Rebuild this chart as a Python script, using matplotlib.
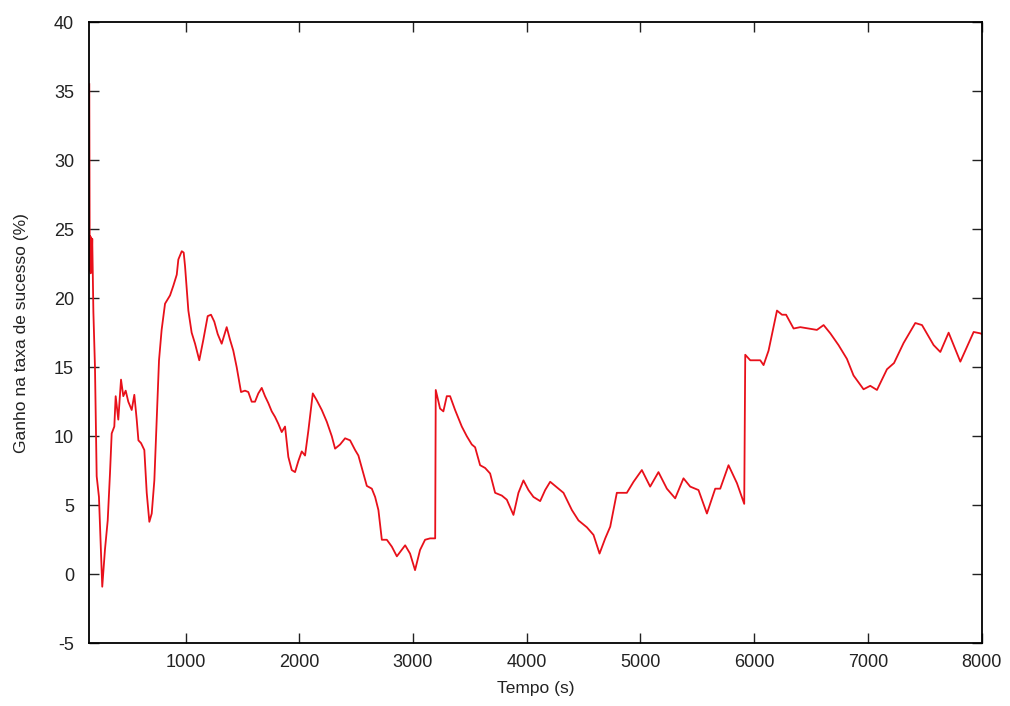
import matplotlib
matplotlib.use("Agg")
import matplotlib.pyplot as plt

plt.rcParams["font.family"] = ["Liberation Sans", "DejaVu Sans"]
plt.rcParams["axes.unicode_minus"] = False

# tempo (s) e ganho (%)
tempo = [154, 158, 162, 166, 170, 175, 180, 190, 204, 219, 239, 268, 292, 316, 336,
         351, 374, 386, 409, 433, 453, 474, 497, 527, 550, 571, 586, 609, 638, 659,
         682, 703, 726, 747, 767, 790, 820, 864, 893, 923, 937, 967, 984, 996, 1025,
         1054, 1084, 1121, 1157, 1195, 1224, 1253, 1283, 1318, 1362, 1391, 1420, 1450,
         1488, 1523, 1552, 1582, 1611, 1640, 1670, 1699, 1728, 1758, 1787, 1816, 1846,
         1875, 1904, 1934, 1963, 1992, 2022, 2051, 2080, 2119, 2154, 2198, 2242, 2286,
         2315, 2359, 2403, 2447, 2491, 2520, 2564, 2594, 2638, 2667, 2696, 2726, 2770,
         2814, 2858, 2931, 2974, 3018, 3062, 3106, 3150, 3195, 3200, 3238, 3267, 3297,
         3326, 3370, 3429, 3473, 3517, 3546, 3590, 3634, 3678, 3722, 3781, 3825, 3883,
         3927, 3971, 4015, 4059, 4118, 4162, 4206, 4265, 4323, 4397, 4455, 4529, 4587,
         4640, 4690, 4734, 4792, 4880, 4939, 5012, 5085, 5158, 5232, 5305, 5378, 5437,
         5510, 5584, 5657, 5701, 5774, 5848, 5912, 5921, 5965, 6053, 6082, 6126, 6200,
         6244, 6280, 6346, 6405, 6478, 6551, 6610, 6669, 6741, 6815, 6873, 6961, 7020,
         7079, 7167, 7229, 7313, 7416, 7475, 7577, 7636, 7709, 7812, 7929, 7988, 8000]
ganho = [35.5, 22.0, 24.5, 21.8, 24.4, 22.5, 24.3, 19.0, 15.0, 7.1, 5.6, -0.9, 1.8, 3.9, 7.3,
         10.2, 10.7, 12.9, 11.2, 14.1, 12.9, 13.3, 12.5, 11.9, 13.0, 11.2, 9.7, 9.5, 9.0, 5.9,
         3.8, 4.4, 6.8, 11.2, 15.5, 17.7, 19.6, 20.2, 20.9, 21.7, 22.8, 23.4, 23.3, 22.3, 19.1,
         17.5, 16.7, 15.5, 17.0, 18.7, 18.8, 18.3, 17.4, 16.7, 17.9, 17.0, 16.2, 15.0,
         13.2, 13.3, 13.2, 12.5, 12.5, 13.1, 13.5, 12.9, 12.4, 11.8, 11.4, 10.9, 10.3,
         10.7, 8.5, 7.55, 7.4, 8.2, 8.9, 8.6, 10.4, 13.1, 12.6, 11.9, 11.05, 10.0,
         9.1, 9.4, 9.85, 9.7, 9.0, 8.6, 7.3, 6.4, 6.2, 5.6, 4.65, 2.5, 2.5,
         2.0, 1.3, 2.1, 1.5, 0.3, 1.76, 2.5, 2.6, 2.6, 13.35, 12.0, 11.8, 12.9,
         12.9, 11.9, 10.7, 10.0, 9.4, 9.2, 7.9, 7.7, 7.3, 5.9, 5.7, 5.4, 4.3,
         5.9, 6.8, 6.1, 5.6, 5.3, 6.1, 6.7, 6.3, 5.9, 4.65, 3.9, 3.4, 2.85,
         1.5, 2.6, 3.45, 5.9, 5.9, 6.7, 7.55, 6.35, 7.4, 6.2, 5.5, 6.95, 6.35,
         6.1, 4.4, 6.2, 6.2, 7.9, 6.6, 5.1, 15.9, 15.5, 15.5, 15.15, 16.2, 19.1,
         18.8, 18.8, 17.8, 17.9, 17.8, 17.7, 18.05, 17.45, 16.6, 15.6, 14.4, 13.4, 13.65,
         13.35, 14.85, 15.3, 16.75, 18.2, 18.05, 16.6, 16.1, 17.5, 15.4, 17.55, 17.45, 17.4]

xticks = [1000, 2000, 3000, 4000, 5000, 6000, 7000, 8000]
yticks = [-5, 0, 5, 10, 15, 20, 25, 30, 35, 40]

fig = plt.figure(figsize=(10.1, 7.06), dpi=100)
ax = fig.add_axes([0.0884, 0.0888, 0.972 - 0.0884, 0.9688 - 0.0888])

ax.plot(tempo, ganho, color="#e8101a", linewidth=1.3)

ax.set_xlim(tempo[0], 8000)
ax.set_ylim(-5, 40)
ax.set_xticks(xticks)
ax.set_yticks(yticks)
ax.tick_params(direction="in", length=7, width=1, top=True, right=True,
               labelsize=13, colors="#222222")
ax.tick_params(axis="y", pad=11)
ax.tick_params(axis="x", pad=8)
for s in ax.spines.values():
    s.set_linewidth(1.3)

ax.set_xlabel("Tempo (s)", fontsize=12.5, labelpad=7, color="#222222")
ax.set_ylabel("Ganho na taxa de sucesso (%)", fontsize=12.5, labelpad=18, color="#222222")

fig.savefig("out.png", dpi=100)
